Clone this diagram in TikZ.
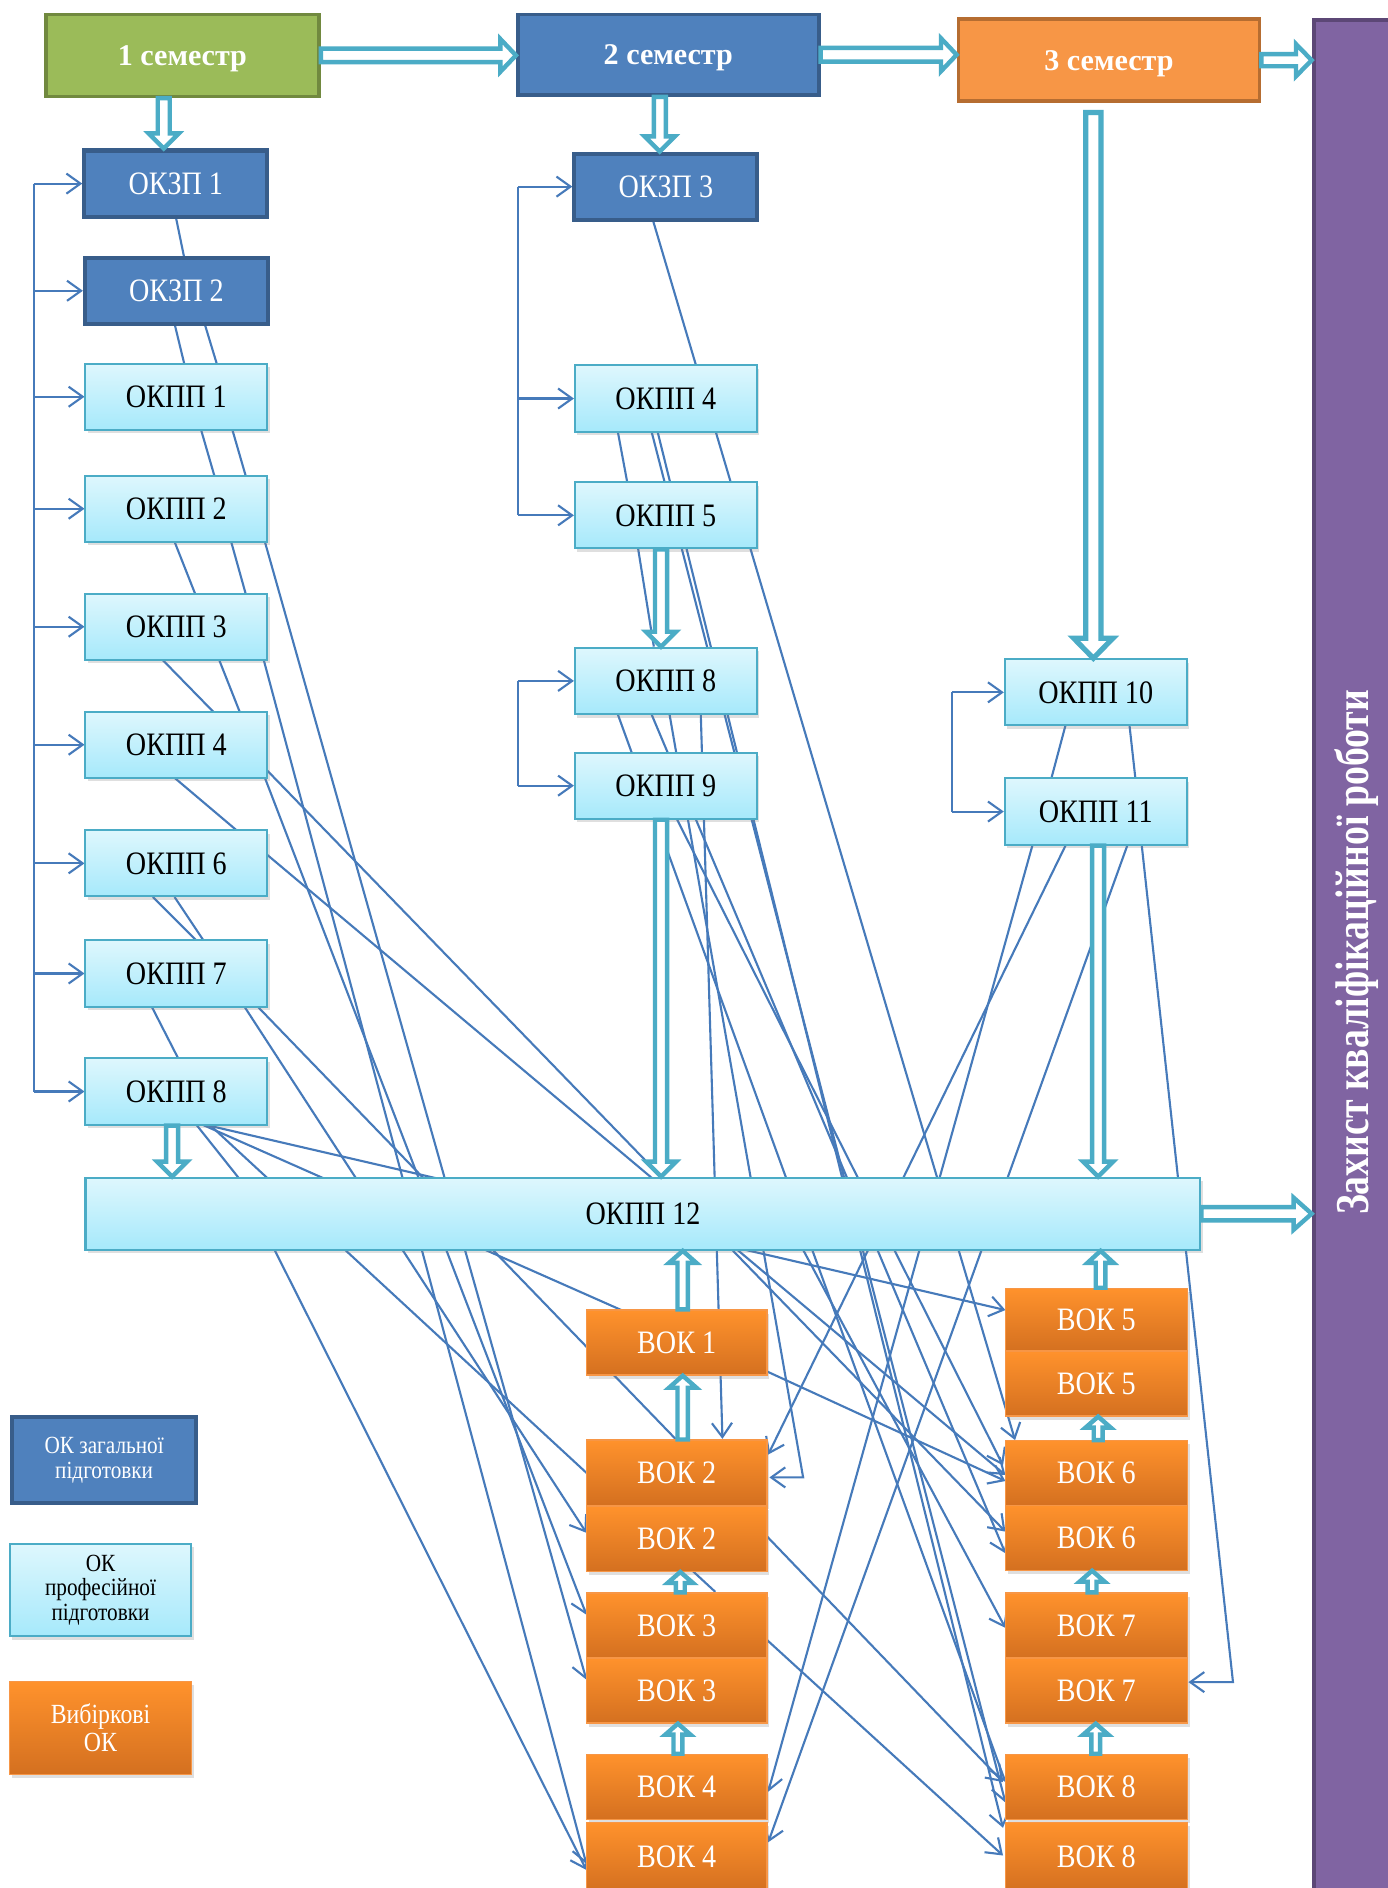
\documentclass[tikz,border=0pt]{standalone}
\usepackage{fontspec}
\setmainfont{Liberation Serif}
\newfontfamily\cond{Liberation Serif}[FakeStretch=0.86]
\newfontfamily\zcond{Liberation Serif}[FakeStretch=0.8]
\usetikzlibrary{arrows.meta,shadows,calc}
\pgfdeclarelayer{bgzero}
\pgfdeclarelayer{background}
\pgfsetlayers{bgzero,background,main}
\definecolor{okzp}{RGB}{79,129,189}
\definecolor{okzpd}{RGB}{56,93,138}
\definecolor{cyt}{RGB}{222,247,253}
\definecolor{cyb}{RGB}{166,233,251}
\definecolor{cyd}{RGB}{75,172,198}
\definecolor{ort}{RGB}{255,146,44}
\definecolor{orb}{RGB}{212,112,32}
\definecolor{ord}{RGB}{247,150,70}
\definecolor{conncol}{RGB}{70,122,186}
\definecolor{greenA}{RGB}{155,187,89}
\definecolor{greenD}{RGB}{113,137,63}
\definecolor{orangeA}{RGB}{247,150,70}
\definecolor{orangeD}{RGB}{182,109,49}
\definecolor{purp}{RGB}{128,100,162}
\definecolor{purpd}{RGB}{92,71,118}
\newcommand\boxfont{\cond\fontsize{16.3}{19}\selectfont}
\newcommand\semfont{\bfseries\fontsize{15}{18}\selectfont}
\newcommand\zfont{\zcond\bfseries\fontsize{23.5}{28}\selectfont}
\newcommand\legfont{\cond\fontsize{12.3}{12.3}\selectfont}
\newcommand\legfontb{\cond\fontsize{13.8}{13.8}\selectfont}
% hollow block arrows: [opts]{start}{end}{half shaft}{half head}{head length}
\newcommand\hoR[6][]{\draw[hollow,#1] let \p1=#2, \p2=#3 in
  (\x1,\y1+#4) -- (\x2-#6,\y1+#4) -- (\x2-#6,\y1+#5) -- (\x2,\y1) --
  (\x2-#6,\y1-#5) -- (\x2-#6,\y1-#4) -- (\x1,\y1-#4) -- cycle;}
\newcommand\hoD[6][]{\draw[hollow,#1] let \p1=#2, \p2=#3 in
  (\x1-#4,\y1) -- (\x1-#4,\y2+#6) -- (\x1-#5,\y2+#6) -- (\x1,\y2) --
  (\x1+#5,\y2+#6) -- (\x1+#4,\y2+#6) -- (\x1+#4,\y1) -- cycle;}
\newcommand\hoU[6][]{\draw[hollow,#1] let \p1=#2, \p2=#3 in
  (\x1-#4,\y1) -- (\x1-#4,\y2-#6) -- (\x1-#5,\y2-#6) -- (\x1,\y2) --
  (\x1+#5,\y2-#6) -- (\x1+#4,\y2-#6) -- (\x1+#4,\y1) -- cycle;}
\begin{document}
\begin{tikzpicture}[x=0.6pt,y=-0.6pt,
  hollow/.style={draw=cyd, line width=2.2pt, fill=white, line join=miter},
  conn/.style={draw=conncol, line width=1.05pt},
  conna/.style={conn, -{Straight Barb[length=7pt,width=10pt]}},
  sem/.style={line width=1.8pt, text=white, font=\semfont, inner sep=0pt, text depth=0pt},
  okzpbox/.style={draw=okzpd, line width=2pt, fill=okzp, text=white, font=\boxfont,
     minimum width=91.2pt, minimum height=33pt, inner sep=0pt},
  okppbox/.style={draw=cyd, line width=1pt, top color=cyt, bottom color=cyb, text=black,
     font=\boxfont, minimum width=90.6pt, minimum height=33pt, inner sep=0pt,
     drop shadow={shadow xshift=1.2pt, shadow yshift=-1.8pt, opacity=0.25}},
  vokbox/.style={draw=ord, line width=0.6pt, top color=ort, bottom color=orb, text=white,
     font=\boxfont, minimum width=90pt, minimum height=32.4pt, inner sep=0pt,
     drop shadow={shadow xshift=1.2pt, shadow yshift=-1.8pt, opacity=0.25}},
  vokboxr/.style={vokbox, minimum width=90.6pt}
]
\useasboundingbox (0,0) rectangle (1152,1568);
\begin{pgfonlayer}{bgzero}
\fill[white] (0,0) rectangle (1152,1568);
\end{pgfonlayer}

% ---------- top row ----------
\node[sem, fill=greenA, draw=greenD, minimum width=136.2pt, minimum height=40.8pt] (s1) at (151.5,46) {1 семестр};
\node[sem, fill=okzp, draw=okzpd, minimum width=150pt, minimum height=40.2pt] (s2) at (555,45.5) {2 семестр};
\node[sem, fill=orangeA, draw=orangeD, minimum width=150pt, minimum height=40.8pt] (s3) at (921,50) {3 семестр};
\node[draw=purpd, line width=2pt, fill=purp, minimum width=42pt, minimum height=938pt, inner sep=0pt] (zax) at (1126,798) {};
\node[rotate=90, text=white, font=\zfont, inner sep=0pt] (zaxt) at (1126.5,791) {Захист кваліфікаційної роботи};

% ---------- left column ----------
\node[okzpbox] (k1) at (146,152.5) {ОКЗП 1};
\node[okzpbox] (k2) at (146.5,241.5) {ОКЗП 2};
\node[okppbox] (p1) at (146.5,329.5) {ОКПП 1};
\node[okppbox] (p2) at (146.5,422.5) {ОКПП 2};
\node[okppbox] (p3) at (146.5,520.5) {ОКПП 3};
\node[okppbox] (p4) at (146.5,618.5) {ОКПП 4};
\node[okppbox] (p6) at (146.5,717) {ОКПП 6};
\node[okppbox] (p7) at (146.5,808.5) {ОКПП 7};
\node[okppbox] (p8) at (146.5,906.5) {ОКПП 8};

% ---------- middle column ----------
\node[okzpbox] (k3) at (553,155) {ОКЗП 3};
\node[okppbox] (q4) at (553,331) {ОКПП 4};
\node[okppbox] (q5) at (553,428) {ОКПП 5};
\node[okppbox] (q8) at (553,565.5) {ОКПП 8};
\node[okppbox] (q9) at (553,652.5) {ОКПП 9};

% ---------- right column ----------
\node[okppbox] (r10) at (910,575) {ОКПП 10};
\node[okppbox] (r11) at (910,674) {ОКПП 11};

% ---------- ОКПП 12 ----------
\node[okppbox, minimum width=555.6pt, minimum height=36pt] (p12) at (534,1008) {ОКПП 12};

% ---------- ВОК ----------
\node[vokbox] (v1)  at (562,1115) {ВОК 1};
\node[vokbox] (v2a) at (562,1223) {ВОК 2};
\node[vokbox] (v2b) at (562,1278) {ВОК 2};
\node[vokbox] (v3a) at (562,1350) {ВОК 3};
\node[vokbox] (v3b) at (562,1404) {ВОК 3};
\node[vokbox] (v4a) at (562,1484) {ВОК 4};
\node[vokbox, minimum height=34pt] (v4b) at (562,1542) {ВОК 4};
\node[vokboxr, minimum height=31.2pt] (w5a) at (910.5,1096) {ВОК 5};
\node[vokboxr] (w5b) at (910.5,1149) {ВОК 5};
\node[vokboxr] (w6a) at (910.5,1223.5) {ВОК 6};
\node[vokboxr] (w6b) at (910.5,1277) {ВОК 6};
\node[vokboxr] (w7a) at (910.5,1350) {ВОК 7};
\node[vokboxr] (w7b) at (910.5,1404) {ВОК 7};
\node[vokboxr] (w8a) at (910.5,1484) {ВОК 8};
\node[vokboxr, minimum height=34pt] (w8b) at (910.5,1542) {ВОК 8};

% ---------- legend ----------
\node[okzpbox, minimum width=91.8pt, minimum height=42.6pt, align=center, font=\legfont] (lg1) at (86.5,1212.5) {ОК загальної\\підготовки};
\node[okppbox, minimum width=90.6pt, minimum height=46.2pt, align=center, font=\legfont] (lg2) at (83.5,1320.5) {ОК\\професійної\\підготовки};
\node[vokbox, minimum width=90.6pt, minimum height=46.2pt, align=center, font=\legfontb] (lg3) at (83.5,1435) {Вибіркові\\ОК};

% ---------- thin connectors (behind boxes) ----------
\begin{pgfonlayer}{background}
\coordinate (lbx) at (28,0);
\coordinate (mbx) at (430,0);
\coordinate (rbx) at (791,0);
\draw[conn] (k1.west -| lbx) -- (p8.west -| lbx);
\foreach \n in {k1,k2,p1,p2,p3,p4,p6,p7,p8}{\draw[conna] (\n.west -| lbx) -- (\n.west);}
\draw[conn] (k3.west -| mbx) -- (q5.west -| mbx);
\foreach \n in {k3,q4,q5}{\draw[conna] (\n.west -| mbx) -- (\n.west);}
\draw[conn] (q8.west -| mbx) -- (q9.west -| mbx);
\foreach \n in {q8,q9}{\draw[conna] (\n.west -| mbx) -- (\n.west);}
\draw[conn] (r10.west -| rbx) -- (r11.west -| rbx);
\foreach \n in {r10,r11}{\draw[conna] (\n.west -| rbx) -- (\n.west);}

% left column short links
\draw[conn] (146,180)--(153,214);
\draw[conn] (145,269)--(153,302);
\draw[conn] (170,269)--(180,302);
\draw[conn] (167,357)--(178,395);
\draw[conn] (193,357)--(204,395);
\draw[conn] (145,450)--(162,493);
\draw[conn] (192,450)--(204,493);
\draw[conn] (135,548)--(177,591);
\draw[conn] (182,548)--(199,591);
\draw[conn] (145,646)--(197,690);
\draw[conn] (127,745)--(163,781);
\draw[conn] (145,745)--(169,781);
\draw[conn] (126,836)--(148,879);
\draw[conn] (163,934)--(198,978);
% left long links
\draw[conna] (220,450)--(487,1395);
\draw[conna] (219,548)--(487,1548);
\draw[conna] (220,646)--(487,1341);
\draw[conna] (222,640)--(835,1272);
\draw[conna] (222,710)--(835,1225);
\draw[conna] (203,836)--(487,1273);
\draw[conn]  (214,836)--(561,1195);
\draw[conn]  (174,934)--(594,1322);
\draw[conn]  (168,934)--(516,1088);
\draw[conna] (170,934)--(835,1088);
\draw[conna] (228,1038)--(487,1553);
% middle links
\draw[conna] (542,182)--(843,1196);
\draw[conn]  (513,358)--(521,401);
\draw[conn]  (530,456)--(543,537);
\draw[conna] (541,358)--(835,1497);
\draw[conna] (546,358)--(833,1518);
\draw[conna] (582,593)--(600,1195);
\draw[conna] (556,593)--(667,1227)--(639,1227);
\draw[conna] (513,593)--(835,1480);
\draw[conna] (541,593)--(835,1290);
\draw[conna] (562,680)--(833,1217);
\draw[conna] (667,1038)--(835,1352);
% ВОК links
\draw[conna] (637,1139)--(835,1230);
\draw[conna] (637,1276)--(833,1480);
\draw[conna] (637,1362)--(833,1541);
% right links
\draw[conn]  (885,602)--(873,647);
\draw[conn]  (938,602)--(943,647);
\draw[conna] (886,700)--(638,1208);
\draw[conna] (858,700)--(638,1488);
\draw[conna] (937,700)--(638,1530);
\draw[conna] (948,700)--(1024,1397)--(987,1397);
\end{pgfonlayer}

% ---------- hollow block arrows ----------
\hoR{(s1.east)}{(s2.west)}{3.4pt}{8.2pt}{7.8pt}
\hoR{(s2.east)}{(s3.west)}{3.4pt}{8.2pt}{7.8pt}
\hoR{(s3.east)}{(zax.west)}{3pt}{8pt}{7.8pt}
\hoD{([xshift=-9.3pt]s1.south)}{(k1.north)}{3pt}{7.5pt}{7.5pt}
\hoD{([xshift=-4.2pt]s2.south)}{(k3.north)}{3pt}{7.5pt}{7.5pt}
\hoD[line width=2.6pt]{([xshift=-7.8pt,yshift=-4.8pt]s3.south)}{(r10.north)}{3.8pt}{9.8pt}{10pt}
\hoD{([xshift=-2.4pt]q5.south)}{(q8.north)}{3pt}{7.5pt}{7.5pt}
\hoD{([xshift=-2.4pt]q9.south)}{(p12.north)}{3pt}{7.5pt}{7.5pt}
\hoD{([xshift=1.2pt]r11.south)}{(p12.north)}{3pt}{7.5pt}{7.5pt}
\hoD{([xshift=-2.1pt]p8.south)}{(p12.north)}{3pt}{7.5pt}{7.5pt}
\hoR{(p12.east)}{(zax.west)}{3.3pt}{8pt}{9pt}
\hoU{([xshift=3pt]v1.north)}{(p12.south)}{2.6pt}{6.8pt}{6pt}
\hoU{([xshift=3pt]v2a.north)}{(v1.south)}{2.6pt}{6.8pt}{6pt}
\hoU{([xshift=1.8pt]v3a.north)}{(v2b.south)}{2.2pt}{6.3pt}{5.5pt}
\hoU{([xshift=0.6pt]v4a.north)}{(v3b.south)}{2.2pt}{6.3pt}{5.5pt}
\hoU{([xshift=2.1pt]w5a.north)}{(p12.south)}{2.4pt}{6.5pt}{6pt}
\hoU{([xshift=0.9pt]w6a.north)}{(w5b.south)}{2.2pt}{6.3pt}{5.5pt}
\hoU{([xshift=-2.1pt]w7a.north)}{(w6b.south)}{2.2pt}{6.3pt}{5.5pt}
\hoU{([xshift=-0.3pt]w8a.north)}{(w7b.south)}{2.2pt}{6.3pt}{5.5pt}
\end{tikzpicture}
\end{document}
